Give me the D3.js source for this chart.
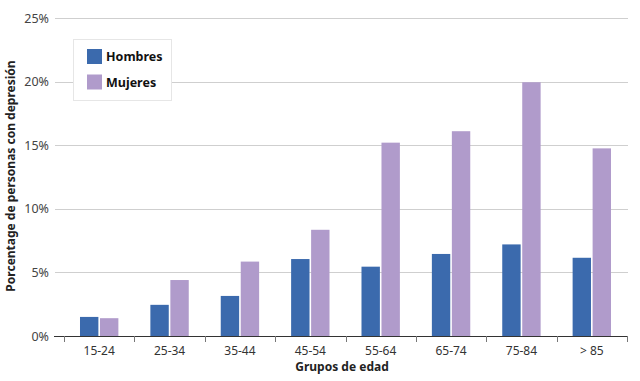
<!DOCTYPE html>
<html><head><meta charset="utf-8">
<script src="https://cdn.jsdelivr.net/npm/d3@7"></script>
<style>
body{margin:0;background:#fff;}
svg{display:block;font-family:"Noto Sans",sans-serif;}
</style></head>
<body><svg id="c" width="640" height="381"></svg>
<script>
const categories = ["15-24","25-34","35-44","45-54","55-64","65-74","75-84","> 85"];
const hombres = [1.5, 2.45, 3.15, 6.05, 5.45, 6.45, 7.2, 6.15];
const mujeres = [1.4, 4.4, 5.85, 8.35, 15.2, 16.1, 19.95, 14.75];
const yTicks = [0, 5, 10, 15, 20, 25];
const seriesNames = ["Hombres", "Mujeres"];
const colors = ["#3b6aad", "#b09bcb"];

const svg = d3.select("#c");
const x = d3.scaleBand().domain(categories).range([64, 627]).paddingInner(0).paddingOuter(0);
const y = d3.scaleLinear().domain([0, 25]).range([336, 18]);
const xs = d3.scaleBand().domain(seriesNames).range([0, x.bandwidth()]).paddingInner(0.08).paddingOuter(0.8);

// gridlines
svg.append("g").selectAll("line").data(yTicks.filter(d => d > 0)).join("line")
  .attr("x1", 55).attr("x2", 628)
  .attr("y1", d => Math.round(y(d)) + 0.5).attr("y2", d => Math.round(y(d)) + 0.5)
  .attr("stroke", "#cfcfcf").attr("stroke-width", 1);

// y labels
svg.append("g").selectAll("text").data(yTicks).join("text")
  .attr("x", 49).attr("y", d => y(d) + 4.5)
  .attr("text-anchor", "end").attr("font-size", 12.5).attr("fill", "#444")
  .text(d => d + "%");

// bars
const data = categories.map((c, i) => ({c, vals: [hombres[i], mujeres[i]]}));
const grp = svg.append("g").selectAll("g").data(data).join("g")
  .attr("transform", d => `translate(${x(d.c)},0)`);
grp.selectAll("rect").data(d => d.vals.map((v, j) => ({v, s: seriesNames[j], j}))).join("rect")
  .attr("x", d => xs(d.s)).attr("width", xs.bandwidth())
  .attr("y", d => y(d.v)).attr("height", d => y(0) - y(d.v))
  .attr("fill", d => colors[d.j]);

// x axis
const xAxis = d3.axisBottom(x).tickSize(0).tickPadding(10);
const ax = svg.append("g").attr("transform", "translate(0,336.5)").call(xAxis);
ax.select(".domain").remove();
ax.selectAll("text").attr("font-size", 12).attr("fill", "#333").attr("font-family", "Noto Sans, sans-serif");
svg.append("line").attr("x1", 54).attr("x2", 628).attr("y1", 336.5).attr("y2", 336.5)
  .attr("stroke", "#333").attr("stroke-width", 1.2);
const tickPos = categories.map(c => x(c)).concat([x.range()[1]]);
svg.append("g").selectAll("line").data(tickPos).join("line")
  .attr("x1", d => Math.round(d) + 0.5).attr("x2", d => Math.round(d) + 0.5)
  .attr("y1", 336).attr("y2", 342).attr("stroke", "#777").attr("stroke-width", 1);

// axis titles
svg.append("text").attr("x", 342).attr("y", 371).attr("text-anchor", "middle")
  .attr("font-size", 12).attr("font-weight", "bold").attr("fill", "#222").text("Grupos de edad");
svg.append("text").attr("transform", "translate(15,176) rotate(-90)").attr("text-anchor", "middle")
  .attr("font-size", 12).attr("font-weight", "bold").attr("fill", "#222").text("Porcentage de personas con depresión");

// legend
const lg = svg.append("g");
lg.append("rect").attr("x", 73.5).attr("y", 39.5).attr("width", 98).attr("height", 61)
  .attr("fill", "#fff").attr("stroke", "#e6e6e6");
seriesNames.forEach((s, i) => {
  lg.append("rect").attr("x", 87).attr("y", 49 + i * 25.5).attr("width", 15).attr("height", 15).attr("fill", colors[i]);
  lg.append("text").attr("x", 106).attr("y", 61 + i * 25.5).attr("font-size", 12.5)
    .attr("font-weight", "bold").attr("fill", "#111").text(s);
});
</script></body></html>
